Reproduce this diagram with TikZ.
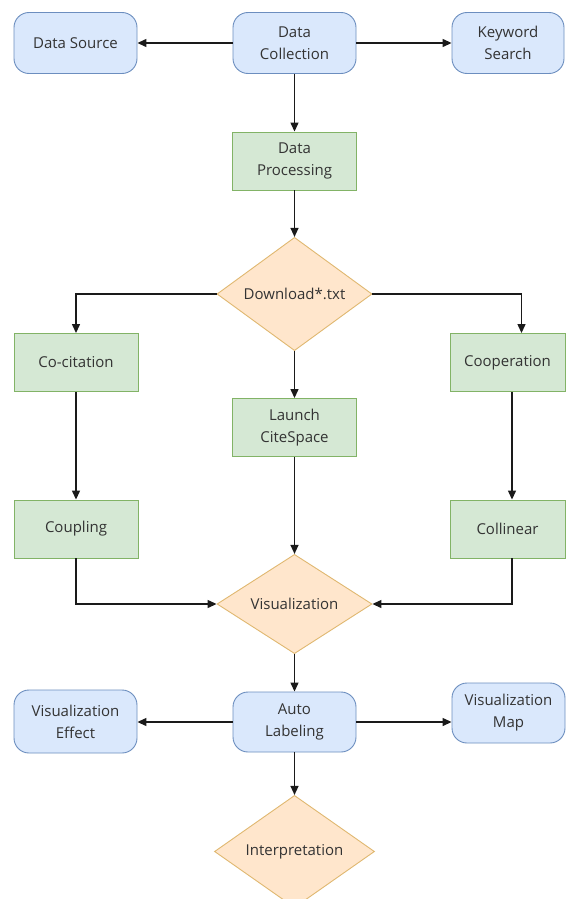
\documentclass[tikz,border=0pt]{standalone}
\usepackage{fontspec}
\setmainfont{Open Sans}
\usetikzlibrary{shapes.geometric,arrows.meta}
\definecolor{bluefill}{HTML}{DAE8FC}
\definecolor{blueline}{HTML}{6C8EBF}
\definecolor{greenfill}{HTML}{D5E8D4}
\definecolor{greenline}{HTML}{82B366}
\definecolor{orfill}{HTML}{FFE6CC}
\definecolor{orline}{HTML}{E0B870}
\definecolor{txt}{HTML}{333333}
\definecolor{lin}{HTML}{1A1A1A}
\tikzset{
  base/.style={font=\fontsize{15}{22}\selectfont, text=txt, align=center, inner sep=0pt, line width=0.9pt},
  bluebox/.style={base, draw=blueline, fill=bluefill, rounded corners=15pt, minimum width=123pt, minimum height=61pt},
  greenbox/.style={base, draw=greenline, fill=greenfill, minimum width=124pt, minimum height=58pt},
  decision/.style={base, diamond, draw=orline, fill=orfill, minimum width=155pt, minimum height=92pt},
  conn/.style={draw=lin, line width=1.3pt, -{Triangle[length=9pt,width=8pt]}},
}
\begin{document}
\begin{tikzpicture}[x=1pt,y=-1pt]
\useasboundingbox[fill=white] (0,0) rectangle (565,899);
% top row
\node[bluebox] (ds) at (75.5,43) {Data Source};
\node[bluebox] (dc) at (294.5,43) {Data\\Collection};
\node[bluebox, minimum width=112pt] (ks) at (508,43) {Keyword\\Search};
\node[greenbox] (dp) at (294.5,161) {Data\\Processing};
\node[decision] (dl) at (294.5,294) {Download*.txt};
\node[greenbox] (coc) at (76,362.5) {Co-citation};
\node[greenbox, minimum width=115pt] (coop) at (507.5,362.5) {Cooperation};
\node[greenbox] (lcs) at (294.5,427.5) {Launch\\CiteSpace};
\node[greenbox] (coup) at (76,529) {Coupling};
\node[greenbox, minimum width=115pt] (coll) at (507.5,529) {Collinear};
\node[decision] (vis) at (294.5,604) {Visualization};
\node[bluebox, minimum height=60pt] (al) at (294.5,722) {Auto\\Labeling};
\node[bluebox, minimum height=63pt] (ve) at (75.5,721.5) {Visualization\\Effect};
\node[bluebox, minimum width=113pt, minimum height=60pt] (vm) at (508.5,713) {Visualization\\Map};
\node[decision, minimum width=160pt, minimum height=93pt] (ip) at (294.5,851.5) {Interpretation};
% connectors
\draw[conn] (dc.west) -- (ds.east);
\draw[conn] (dc.east) -- (ks.west);
\draw[conn] (dc.south) -- (dp.north);
\draw[conn] (dp.south) -- (dl.north);
\draw[conn] (dl.west) -| (coc.north);
\draw[conn] (dl.east) -| ([xshift=14pt]coop.north);
\draw[conn] (dl.south) -- (lcs.north);
\draw[conn] (coc.south) -- (coup.north);
\draw[conn] ([xshift=4.5pt]coop.south) -- ([xshift=4.5pt]coll.north);
\draw[conn] (lcs.south) -- (vis.north);
\draw[conn] (coup.south) |- (vis.west);
\draw[conn] ([xshift=4.5pt]coll.south) |- (vis.east);
\draw[conn] (vis.south) -- (al.north);
\draw[conn] (al.west) -- (ve.east |- al.west);
\draw[conn] (al.east) -- (vm.west |- al.east);
\draw[conn] (al.south) -- (ip.north);
\end{tikzpicture}
\end{document}
